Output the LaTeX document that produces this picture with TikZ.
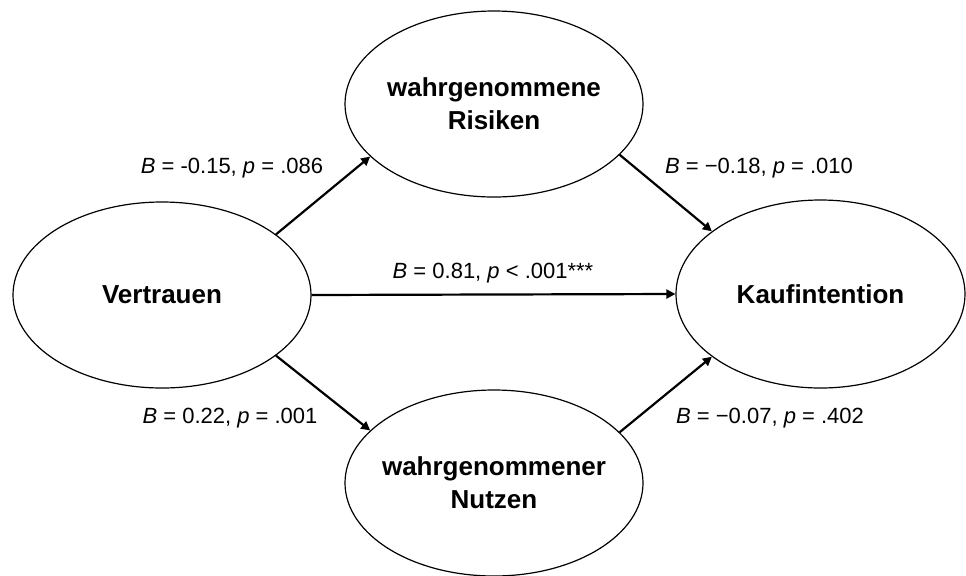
\documentclass[tikz,border=0pt]{standalone}
\usepackage{fontspec}
\setmainfont{Liberation Sans}
\usetikzlibrary{shapes.geometric,arrows.meta}

\begin{document}
\begin{tikzpicture}[x=0.5pt, y=-0.5pt, >={Triangle[length=4.5pt,width=4.5pt]},
        main/.style = {draw, ellipse, line width=0.6pt, inner sep=0pt, minimum width=149pt, minimum height=93pt,
            label={[align=center, font=\fontsize{13}{16.5}\selectfont\bfseries]center:#1}},
        coef/.style = {font=\fontsize{11}{13}\selectfont},
        link/.style = {->, line width=1.1pt}]
        \useasboundingbox (0,0) rectangle (966,575);
        \node[main={Vertrauen}] (1) at (162,295) {};
        \node[main={wahrgenommene\\Risiken}] (2) at (494,104) {};
        \node[main={wahrgenommener\\Nutzen}] (3) at (494,483) {};
        \node[main={Kaufintention}, minimum width=144.5pt, minimum height=94pt] (4) at (820.5,294) {};

        \node[coef] (b1) at (232,168) {\textit{B} = -0.15, \textit{p} = .086};
        \node[coef] (b2) at (759,168) {\textit{B} = −0.18, \textit{p} = .010};
        \node[coef] (b3) at (493,273) {\textit{B} = 0.81, \textit{p} < .001***};
        \node[coef] (b4) at (230,418) {\textit{B} = 0.22, \textit{p} = .001};
        \node[coef] (b5) at (770,418) {\textit{B} = −0.07, \textit{p} = .402};

        \draw[link] (1.28) -- (2.203);
        \draw[link] (1.east) -- (4.west);
        \draw[link] (1.-28) -- (3.157);
        \draw[link] (2.-22) -- (4.150);
        \draw[link] (3.22) -- (4.210);
        \end{tikzpicture}
\end{document}
